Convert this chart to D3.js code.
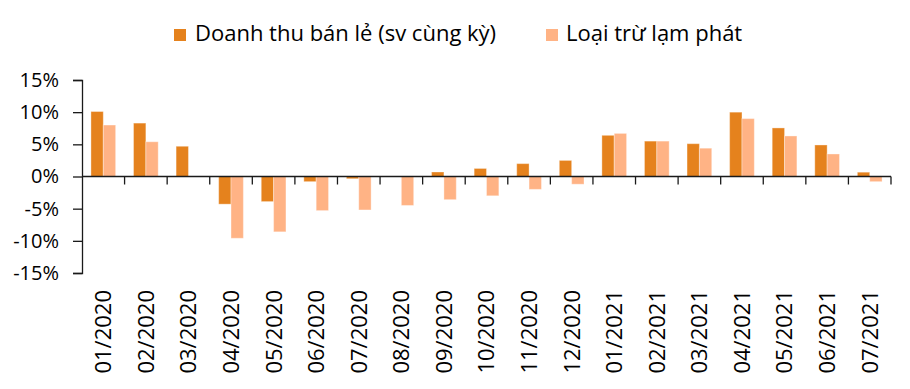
<!DOCTYPE html>
<html>
<head>
<meta charset="utf-8">
<script src="https://cdn.jsdelivr.net/npm/d3@7"></script>
<style>
  html, body { margin: 0; padding: 0; background: #fff; }
  svg { display: block; }
  text { font-family: "Open Sans", "Noto Sans", sans-serif; fill: #000; }
</style>
</head>
<body>
<svg id="chart" width="910" height="389"></svg>
<script>
const categories = ["01/2020","02/2020","03/2020","04/2020","05/2020","06/2020","07/2020","08/2020","09/2020","10/2020","11/2020","12/2020","01/2021","02/2021","03/2021","04/2021","05/2021","06/2021","07/2021"];
const retailYoY = [10.1, 8.3, 4.7, -4.3, -3.9, -0.8, -0.35, 0, 0.7, 1.25, 2.0, 2.5, 6.4, 5.5, 5.1, 10.0, 7.55, 4.9, 0.67];
const excludingInflation = [8.0, 5.4, 0, -9.6, -8.6, -5.3, -5.2, -4.5, -3.6, -3.0, -2.0, -1.2, 6.7, 5.5, 4.4, 9.0, 6.3, 3.5, -0.8];
const seriesNames = ["Doanh thu bán lẻ (sv cùng kỳ)", "Loại trừ lạm phát"];
const seriesColors = ["#E5821D", "#FFB385"];
const yTicks = [-15, -10, -5, 0, 5, 10, 15];

const svg = d3.select("#chart");
const x0 = d3.scaleBand().domain(categories).range([82, 891]).paddingInner(0).paddingOuter(0);
const x1 = d3.scaleBand().domain([0, 1]).range([x0.bandwidth() * 0.21, x0.bandwidth() * 0.79]);
const y = d3.scaleLinear().domain([-15, 15]).range([273, 80]);

const data = categories.map((c, i) => ({ cat: c, vals: [retailYoY[i], excludingInflation[i]] }));

// bars
const groups = svg.append("g").selectAll("g").data(data).join("g")
  .attr("transform", d => `translate(${x0(d.cat)},0)`);
groups.selectAll("rect").data(d => d.vals.map((v, k) => ({ v, k }))).join("rect")
  .attr("x", d => x1(d.k))
  .attr("width", x1.bandwidth())
  .attr("y", d => y(Math.max(0, d.v)))
  .attr("height", d => Math.abs(y(d.v) - y(0)))
  .attr("fill", d => seriesColors[d.k])
  .attr("stroke", "rgba(255,255,255,0.35)")
  .attr("stroke-width", 1);

// y axis
const yAxis = d3.axisLeft(y).tickValues(yTicks).tickSize(9).tickPadding(14)
  .tickFormat(d => d + "%");
const gy = svg.append("g").attr("transform", "translate(82,0)").call(yAxis);
gy.select(".domain").attr("stroke", "#1a1a1a").attr("stroke-width", 1.3);
gy.selectAll(".tick line").attr("stroke", "#1a1a1a").attr("stroke-width", 1.3);
gy.selectAll(".tick text").attr("font-size", 20).attr("font-family", "Open Sans").attr("fill", "#000");

// zero line with ticks at category boundaries
const boundaries = categories.map(c => x0(c) + x0.bandwidth());
const gx = svg.append("g");
gx.append("line").attr("x1", 82).attr("x2", 891).attr("y1", y(0)).attr("y2", y(0))
  .attr("stroke", "#1a1a1a").attr("stroke-width", 1.3);
gx.selectAll("line.tk").data(boundaries).join("line").attr("class", "tk")
  .attr("x1", d => d).attr("x2", d => d)
  .attr("y1", y(0)).attr("y2", y(0) + 8)
  .attr("stroke", "#1a1a1a").attr("stroke-width", 1.3);

// x labels
svg.append("g").selectAll("text").data(categories).join("text")
  .attr("transform", d => `translate(${x0(d) + x0.bandwidth() / 2},290) rotate(-90)`)
  .attr("text-anchor", "end")
  .attr("dy", "0.36em")
  .attr("font-size", 22)
  .text(d => d);

// legend
const legendX = [174, 546];
const lg = svg.append("g").selectAll("g").data(seriesNames).join("g")
  .attr("transform", (d, i) => `translate(${legendX[i]},0)`);
lg.append("rect").attr("x", 0).attr("y", 29).attr("width", 12).attr("height", 12)
  .attr("fill", (d, i) => seriesColors[i]);
lg.append("text").attr("x", (d, i) => i === 0 ? 21 : 20).attr("y", 41)
  .attr("font-size", 22).text(d => d);
</script>
</body>
</html>
